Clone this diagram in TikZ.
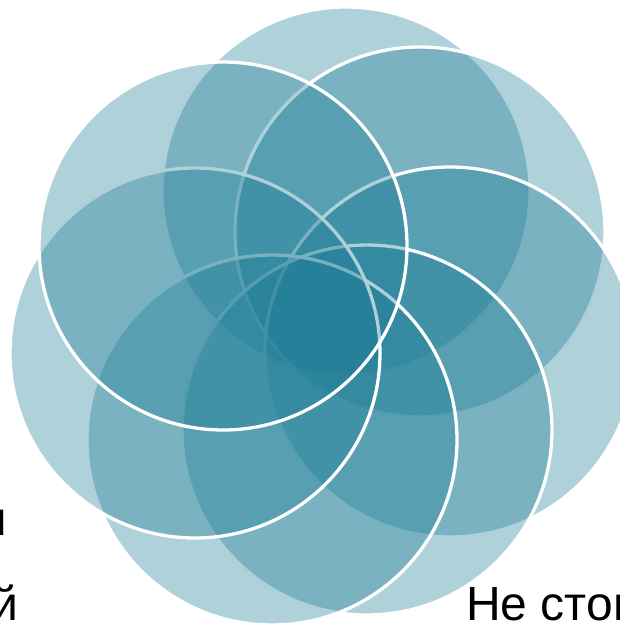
\documentclass[tikz,border=0pt]{standalone}
\usepackage{fontspec}
\setmainfont{Liberation Sans}
\definecolor{petalblue}{RGB}{25,122,148}
\begin{document}
\begin{tikzpicture}[x=1pt,y=-1pt,
  petal/.style={fill=petalblue, fill opacity=0.35, draw=white, line width=3.3pt},
  txt/.style={font=\fontsize{48}{58}\selectfont, inner sep=0pt, text=black}]
\useasboundingbox (0,0) rectangle (620,625);
\clip (0,0) rectangle (620,625);
% circles, drawn in order (each later one lies over the earlier ones)
\path[petal] (346,191) circle[radius=184pt];
\path[petal] (420,232) circle[radius=185pt];
\path[petal] (450,352) circle[radius=185pt];
\path[petal] (367,430) circle[radius=185pt];
\path[petal] (272,440) circle[radius=185pt];
\path[petal] (195,353) circle[radius=185pt];
\path[petal] (223,246) circle[radius=184pt];
% text fragments, cut by the picture's edges as in the reference
\node[txt, anchor=base east] (t1) at (7.5,535) {н};
\node[txt, anchor=base east] (t2) at (18.5,620) {й};
\node[txt, anchor=base west] (t3) at (466,620) {Не стоит};
\end{tikzpicture}
\end{document}
